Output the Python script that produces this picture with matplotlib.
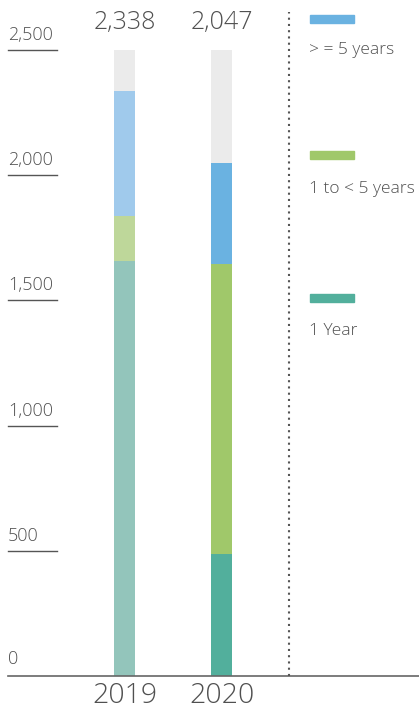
import matplotlib
matplotlib.use("Agg")
import matplotlib.pyplot as plt
from matplotlib.patches import Rectangle

years = ["2019", "2020"]
totals = [2338, 2047]
one_year = [1658, 486]
one_to_five = [179, 1158]
five_plus = [501, 403]
ticks = [0, 500, 1000, 1500, 2000, 2500]
tick_labels = ["0", "500", "1,000", "1,500", "2,000", "2,500"]
legend_labels = ["> = 5 years", "1 to < 5 years", "1 Year"]

# previous year drawn in faded shades
colors = {
    "2019": ["#93c5bb", "#bed79a", "#a0caec"],
    "2020": ["#52af9c", "#a0c86a", "#6ab2e1"],
}
legend_colors = ["#6ab2e1", "#a0c86a", "#52af9c"]
text_color = "#505050"
font = ["Open Sans", "DejaVu Sans"]
weight = "light"

W, H = 419, 709
fig = plt.figure(figsize=(W / 100, H / 100), dpi=100)

# axes spans x pixels 8..419, y pixels 50 (2500) .. 676 (0)
ax = fig.add_axes([8 / W, (H - 676) / H, (W - 8) / W, 626 / H])
px = 97.0  # pixels between bar centres
ax.set_xlim(-(124.5 - 8) / px, 1 + (419 - 221.5) / px)
ax.set_ylim(0, 2500)
ax.axis("off")
upx = 2500 / 626  # data units per pixel

width = 21 / px
for i, yr in enumerate(years):
    ax.bar(i, 2500, width=width, color="#ebebeb", zorder=1)
    c = colors[yr]
    ax.bar(i, one_year[i], width=width, color=c[0], zorder=2)
    ax.bar(i, one_to_five[i], bottom=one_year[i], width=width, color=c[1], zorder=2)
    ax.bar(i, five_plus[i], bottom=one_year[i] + one_to_five[i], width=width,
           color=c[2], zorder=2)
    ax.text(i, 2500 + 28 * upx, f"{totals[i]:,}", ha="center", va="center",
            fontsize=18, color=text_color, family=font, fontweight=weight,
            clip_on=False)
    ax.text(i, -20 * upx, yr, ha="center", va="center", fontsize=20.5,
            color=text_color, family=font, fontweight=weight, clip_on=False)

# y ticks: short rules with labels sitting above them
x0 = ax.get_xlim()[0]
x1 = x0 + 49 / px
for v, lab in zip(ticks, tick_labels):
    if v > 0:
        ax.plot([x0, x1], [v, v], color="#555555", lw=1, zorder=3, clip_on=False)
    gap = 10 if v > 0 else 12
    ax.text(x0, v + gap * upx, lab, ha="left", va="baseline", fontsize=13,
            color=text_color, family=font, fontweight=weight, clip_on=False)

ax.plot(ax.get_xlim(), [0, 0], color="#666666", lw=1.2, clip_on=False, zorder=3)
xd = 1 + (289 - 221.5) / px
ax.plot([xd, xd], [0, 2500 + 38 * upx], color="#555555", lw=1.5,
        linestyle=(0, (1, 2)), clip_on=False, zorder=3)

# legend entries
patch_y = [19, 155, 298]
label_y = [50, 189, 331]
for col, lab, py, ty in zip(legend_colors, legend_labels, patch_y, label_y):
    fig.patches.append(Rectangle((310 / W, (H - py - 4) / H), 44 / W, 8 / H,
                                 transform=fig.transFigure, color=col))
    fig.text(309 / W, (H - ty) / H, lab, ha="left", va="center",
             fontsize=12.5, color=text_color, family=font, fontweight=weight)

fig.savefig("out.png", dpi=100)
